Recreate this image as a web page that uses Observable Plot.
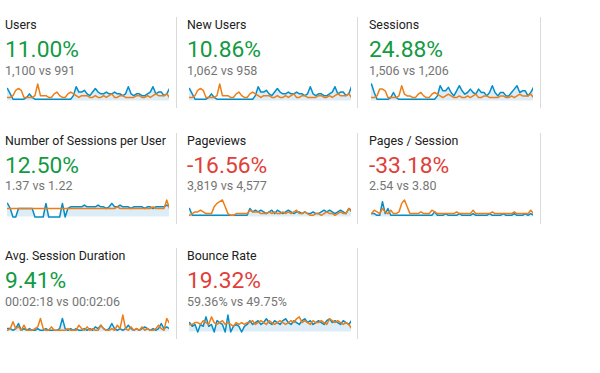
<!DOCTYPE html>
<html><head><meta charset="utf-8">
<script src="https://cdn.jsdelivr.net/npm/d3@7"></script>
<script src="https://cdn.jsdelivr.net/npm/@observablehq/plot@0.6"></script>
<style>
body{margin:0;background:#fff;font-family:Roboto,"Noto Sans",sans-serif;}
#root{position:relative;width:600px;height:373px;overflow:hidden;}
.cell{position:absolute;width:172px;height:115px;}
.title{position:absolute;left:0;top:19px;font-size:12.4px;line-height:12.4px;color:#212121;white-space:nowrap;}
.big{position:absolute;left:0;top:39.3px;font-size:22.8px;line-height:22.8px;white-space:nowrap;}
.sub{position:absolute;left:0;top:64.8px;font-size:12.5px;line-height:12.5px;color:#757575;white-space:nowrap;}
.spark{position:absolute;left:2px;top:82px;}
.div{position:absolute;width:1px;background:#dadada;}
</style>
</head><body><div id="root"></div>
<script>
const titles = ["Users","New Users","Sessions","Number of Sessions per User","Pageviews","Pages / Session","Avg. Session Duration","Bounce Rate"];
const changes = ["11.00%","10.86%","24.88%","12.50%","-16.56%","-33.18%","9.41%","19.32%"];
const comparisons = ["1,100 vs 991","1,062 vs 958","1,506 vs 1,206","1.37 vs 1.22","3,819 vs 4,577","2.54 vs 3.80","00:02:18 vs 00:02:06","59.36% vs 49.75%"];
const improved = [true,true,true,true,false,false,true,false];

// sparkline series (60 days): current period (blue) and previous period (orange)
const current = [
 [7,4,1,1,1,1,1,2,4,2,1,1,1,1,1,1,1,1,1,1,1,1,1,1,3,8,5,5,6,4,3,5,7,5,4,4,5,4,4,5,4,4,3,4,8,4,3,4,4,3,3,4,5,8,4,5,5,3,4,7],
 [7,4,1,1,1,1,1,2,4,2,1,1,1,1,1,1,1,1,1,1,1,1,1,1,3,8,5,5,6,4,3,5,7,5,4,4,5,4,4,5,4,4,3,4,8,4,3,4,4,3,3,4,5,8,4,5,5,3,4,8],
 [10,5,1,1,1,1,1,2,5,2,1,1,1,1,1,1,1,1,1,1,1,1,1,1,3,9,6,6,8,5,3,6,9,6,4,5,7,5,4,7,5,5,3,5,9,5,3,5,5,3,3,5,7,9,5,6,6,3,5,8],
 [8,5,0,0,5,5,5,5,5,5,0,0,0,0,8,0,0,0,0,0,8,0,5,6,6,6,6,6,7,6,6,6,6,7,6,6,5,6,8,6,6,7,6,6,6,5,6,6,6,6,5,6,6,5,6,6,6,6,7,6],
 [5,1,1,1,1,1,1,1,1,1,1,1,1,1,1,1,1,1,1,1,1,1,5,3,4,3,4,3,2,3,4,2,4,3,2,3,4,3,2,3,3,2,3,2,2,3,2,2,3,4,3,4,3,2,3,4,3,2,5,4],
 [2,2,1,1,9,2,5,1,1,1,1,1,1,1,1,1,1,1,1,1,1,1,1,3,1,1,1,2,1,1,1,1,2,1,1,1,1,2,1,1,1,1,1,2,1,1,1,1,2,1,1,1,2,1,1,1,2,1,2,1],
 [2,2,1,2,5,1,2,1,2,1,1,2,1,1,2,1,1,1,1,2,8,2,1,2,1,2,1,1,2,1,2,1,3,2,4,2,1,2,5,2,1,2,1,2,4,2,1,2,1,2,3,2,1,2,1,2,5,2,3,2],
 [5,3,4,0,4,3,8,3,4,0,6,5,4,0,9,0,3,4,3,0,3,4,6,4,5,6,4,5,7,5,4,6,5,4,6,7,5,4,6,5,4,6,7,5,6,4,5,6,5,4,6,7,5,6,5,4,6,5,4,6]
];
const previous = [
 [2,2,3,6,7,6,2,2,2,2,3,9.5,3,3,3,2,2,4,5,3,2,2,4,5,4,3,2,3,3,3,2,2,3,2,2,3,2,3,4,2,2,3,3,2,2,2,2,3,3,2,2,3,2,3,4,3,3,3,4,2],
 [2,2,3,6,7,6,2,2,2,2,3,9.5,3,3,3,2,2,4,5,3,2,2,4,5,4,3,2,3,3,3,2,2,3,2,2,3,2,3,4,2,2,3,3,2,2,2,2,3,3,2,2,3,2,3,4,3,3,3,4,2],
 [2,2,3,7,7,6,2,2,2,2,3,9,4,3,3,2,2,4,5,3,2,2,4,5,4,3,2,3,4,3,2,2,3,2,2,3,2,3,4,2,2,3,3,2,2,2,2,3,3,2,2,3,2,3,4,3,3,3,4,2],
 [5,5,5,5,5,5,5,5,5,5,5,5,5,5,5,5,5,5,5,5,5,5,5,5,5,5,5,5,5,5,5,5,5,5,5,5,5,5,5,5,6,5,5,5,5,5,5,5,5,5,5,5,5,6,5,5,5,5,10,5],
 [1,2,3,3,4,3,2,2,2,6,8,9,10,6,2,1,1,2,2,2,2,2,4,3,3,3,2,2,2,3,2,3,2,2,3,2,3,2,3,4,2,2,3,2,1,1,2,2,1,2,3,2,2,1,2,3,2,2,5,3],
 [2,4,3,2,5,3,2,4,2,2,3,8,10,6,2,2,2,2,3,2,2,2,4,3,2,2,2,2,2,2,2,3,2,2,2,2,2,4,2,2,2,2,2,2,3,2,2,2,2,2,2,2,3,2,2,2,2,2,4,2],
 [1,2,6,2,3,1,4,1,1,1,2,3,8,2,1,1,3,1,1,1,1,1,2,1,1,1,4,2,1,3,1,2,1,1,4,2,1,1,2,1,4,2,10,2,1,3,1,2,1,3,1,2,1,1,2,4,2,1,8,5],
 [4,4,5,5,4,6,5,4,8,5,4,5,6,4,5,4,3,5,4,5,4,5,5,6,4,5,6,5,4,6,5,4,5,6,5,4,5,6,5,7,8,5,6,5,4,6,5,5,6,5,4,7,6,5,6,5,4,5,4,2]
];

const colLeft = [5, 187, 369];
const dividerX = [176, 357, 540];
const rowStep = 115.5;
const root = document.getElementById("root");

titles.forEach((t, i) => {
  const r = Math.floor(i / 3), c = i % 3;
  const top = r * rowStep;
  const cell = document.createElement("div");
  cell.className = "cell";
  cell.style.left = colLeft[c] + "px";
  cell.style.top = top + "px";
  const ti = document.createElement("div"); ti.className = "title"; ti.textContent = t;
  const bg = document.createElement("div"); bg.className = "big"; bg.textContent = changes[i];
  bg.style.color = improved[i] ? "#139a43" : "#e0403a";
  const sb = document.createElement("div"); sb.className = "sub"; sb.textContent = comparisons[i];
  cell.append(ti, bg, sb);

  const data = current[i].map((v, k) => ({k, cur: v, prev: previous[i][k]}));
  const ymax = d3.max(data, d => Math.max(d.cur, d.prev));
  const svg = Plot.plot({
    width: 162, height: 20,
    marginTop: 1.5, marginBottom: 1.5, marginLeft: 0, marginRight: 0,
    x: {axis: null, domain: [0, data.length - 1]},
    y: {axis: null, domain: [0, ymax]},
    marks: [
      Plot.areaY(data, {x: "k", y: "cur", fill: "#dcedf8"}),
      Plot.lineY(data, {x: "k", y: "cur", stroke: "#058dc7", strokeWidth: 1.5}),
      Plot.lineY(data, {x: "k", y: "prev", stroke: "#ed7e17", strokeWidth: 1.5})
    ]
  });
  svg.classList.add("spark");
  cell.append(svg);
  root.append(cell);

  const dv = document.createElement("div");
  dv.className = "div";
  dv.style.left = dividerX[c] + "px";
  dv.style.top = (top + 17) + "px";
  dv.style.height = "91px";
  root.append(dv);
});
</script>
</body></html>
